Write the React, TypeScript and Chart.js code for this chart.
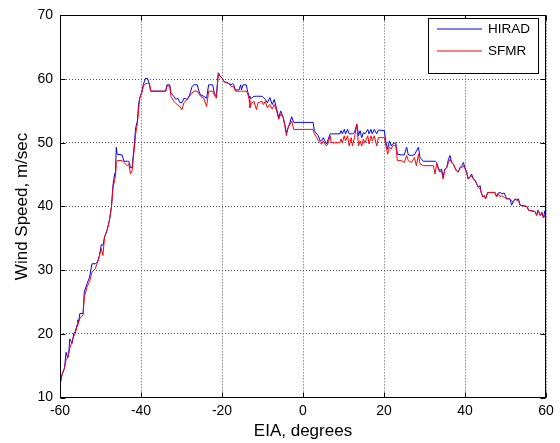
import { useEffect, useRef } from 'react';
import { Chart, registerables } from 'chart.js';

Chart.register(...registerables);

// EIA (degrees) sample positions shared by both series
const eia = [
  -60, -59.5, -58.9, -58.5, -58.1, -57.8, -57.6, -57.0, -56.6, -56.2,
  -55.8, -55.6, -55.4, -55.1, -54.3, -54.0, -53.3, -52.7, -52.1, -51.3,
  -50.7, -50.3, -49.8, -49.4, -49.0, -48.4, -47.8, -47.3, -46.9, -46.5,
  -46.3, -46.1, -45.9, -44.7, -44.2, -43.4, -43.0, -42.6, -42.2, -41.8,
  -41.3, -40.9, -40.6, -40.3, -39.8, -39.4, -38.9, -38.4, -37.9, -37.6,
  -33.9, -33.6, -32.9, -32.6, -31.9, -31.4, -30.9, -30.4, -29.9, -29.4,
  -28.6, -28.0, -27.4, -27.0, -26.1, -25.8, -25.3, -24.5, -23.8, -23.3,
  -22.3, -21.9, -21.4, -20.9, -20.5, -19.9, -19.5, -18.3, -17.7, -17.5,
  -17.1, -16.7, -15.8, -15.4, -15.2, -14.8, -14.0, -13.7, -13.3, -13.1,
  -12.7, -12.1, -11.5, -11.1, -10.1, -9.8, -9.3, -8.8, -8.2, -7.6,
  -7.1, -6.5, -6.0, -5.5, -4.9, -4.5, -4.1, -3.65, -3.2, -2.8,
  -2.3, 2.5, 2.8, 3.4, 3.8, 4.2, 4.6, 5.0, 5.4, 5.8,
  6.25, 6.7, 7.0, 9.1, 9.4, 9.7, 10.2, 10.5, 11.0, 11.4,
  11.9, 12.2, 12.7, 13.3, 13.7, 14.1, 14.5, 14.9, 15.3, 16.0,
  16.3, 16.8, 17.1, 17.6, 18.2, 18.6, 20.1, 20.4, 20.9, 21.35,
  21.8, 22.1, 22.6, 22.9, 23.3, 24.3, 25.0, 25.6, 26.0, 26.8,
  27.5, 28.0, 28.5, 28.9, 29.7, 32.2, 32.6, 33.0, 33.4, 33.8,
  34.2, 34.6, 35.05, 35.5, 35.9, 36.3, 36.7, 37.1, 37.5, 37.9,
  38.3, 38.8, 39.2, 39.6, 40.0, 40.4, 40.8, 41.2, 41.6, 42.1,
  42.5, 42.9, 43.3, 43.7, 44.0, 44.4, 44.8, 45.1, 45.6, 47.4,
  47.8, 48.2, 48.7, 49.1, 49.7, 50.3, 51.1, 51.5, 51.9, 52.4,
  52.8, 53.2, 53.6, 55.3, 55.7, 57.3, 57.7, 58.0, 58.6, 59.0,
  59.4, 59.7, 60.0,
];

// HIRAD wind speed (m/sec)
const hirad = [
  12.0, 13.6, 14.6, 17.1, 16.2, 17.3, 19.2, 18.5, 20.1, 20.4,
  21.4, 22.2, 21.8, 23.2, 23.2, 26.6, 27.9, 28.9, 31.0, 31.0,
  31.3, 32.2, 34.0, 33.9, 35.2, 36.2, 37.8, 39.9, 43.5, 45.1,
  45.4, 49.3, 48.2, 48.1, 47.1, 47.1, 47.1, 46.1, 46.1, 48.7,
  52.4, 53.4, 56.0, 57.1, 57.9, 59.2, 60.1, 60.1, 59.1, 58.1,
  58.1, 59.1, 59.1, 57.8, 57.3, 56.8, 57.0, 56.3, 56.3, 57.0,
  56.8, 57.5, 58.8, 59.1, 59.1, 58.3, 57.5, 57.3, 57.0, 59.1,
  59.1, 57.8, 57.3, 61.0, 60.5, 60.1, 59.6, 59.3, 59.1, 59.3,
  59.1, 58.3, 58.3, 59.1, 58.3, 59.1, 59.1, 58.1, 57.3, 57.0,
  57.0, 57.3, 57.3, 57.3, 57.3, 57.1, 56.8, 56.3, 57.1, 56.0,
  56.8, 55.3, 53.9, 55.0, 54.0, 52.9, 51.6, 52.4, 53.2, 54.1,
  53.2, 53.2, 51.9, 51.4, 51.1, 50.3, 50.3, 50.8, 50.3, 49.8,
  50.6, 51.4, 51.4, 51.4, 51.9, 51.4, 52.1, 51.4, 52.1, 51.4,
  51.4, 51.4, 51.6, 52.9, 51.1, 51.9, 50.8, 51.6, 51.4, 52.1,
  51.4, 52.1, 51.4, 52.1, 51.4, 52.0, 51.9, 50.3, 49.0, 50.3,
  49.5, 49.8, 49.9, 50.0, 48.2, 48.1, 48.1, 49.3, 48.1, 48.0,
  48.1, 48.7, 49.3, 47.7, 47.1, 47.1, 47.1, 46.9, 46.1, 45.6,
  45.9, 44.6, 45.9, 46.1, 47.4, 48.0, 46.9, 46.7, 46.1, 45.6,
  45.4, 46.1, 46.4, 46.9, 46.1, 45.4, 44.3, 44.6, 45.1, 44.3,
  44.1, 43.5, 43.0, 43.3, 42.2, 41.5, 41.7, 41.2, 42.2, 42.2,
  41.5, 42.1, 42.2, 42.0, 42.1, 41.2, 41.2, 40.2, 40.7, 41.2,
  41.0, 41.2, 40.2, 40.0, 39.4, 39.2, 38.6, 39.4, 38.6, 39.1,
  38.2, 39.3, 38.3,
];

// SFMR wind speed (m/sec)
const sfmr = [
  12.0, 13.6, 14.6, 15.9, 16.2, 17.0, 17.7, 18.8, 19.6, 20.1,
  21.2, 21.5, 21.9, 22.4, 23.0, 25.8, 27.4, 28.2, 29.7, 30.2,
  31.3, 32.2, 33.4, 32.3, 35.2, 36.2, 37.8, 39.9, 43.0, 44.1,
  44.8, 46.9, 47.2, 47.2, 46.9, 46.4, 46.7, 45.1, 45.6, 48.2,
  51.5, 53.0, 55.0, 57.0, 57.9, 58.9, 59.3, 59.3, 59.3, 58.1,
  58.1, 58.9, 58.9, 57.3, 56.5, 56.2, 55.9, 55.7, 55.2, 56.3,
  56.8, 57.3, 57.8, 58.1, 58.1, 57.8, 57.3, 57.0, 55.7, 58.1,
  58.1, 57.5, 57.0, 60.9, 60.4, 60.1, 59.6, 59.3, 58.8, 58.8,
  58.8, 58.1, 58.1, 58.1, 58.1, 58.1, 58.1, 57.8, 56.8, 55.5,
  56.2, 56.5, 55.2, 56.3, 56.5, 56.0, 56.5, 55.5, 56.0, 55.3,
  56.0, 55.0, 53.7, 54.5, 54.0, 52.7, 51.1, 52.4, 52.9, 53.4,
  52.1, 52.1, 51.4, 50.8, 50.3, 50.0, 49.8, 50.3, 49.8, 49.5,
  50.0, 51.1, 50.0, 50.0, 50.6, 50.0, 51.1, 50.3, 51.1, 49.5,
  50.8, 49.5, 50.8, 52.9, 49.5, 50.3, 49.5, 50.6, 50.0, 51.1,
  49.8, 51.1, 50.3, 51.1, 49.5, 50.8, 50.8, 49.8, 48.2, 49.3,
  49.0, 49.5, 49.6, 49.7, 47.2, 47.2, 46.9, 48.0, 47.2, 46.9,
  47.7, 46.4, 48.2, 46.7, 46.4, 46.4, 45.1, 46.7, 45.9, 45.4,
  45.6, 44.3, 45.9, 46.1, 46.9, 47.4, 46.9, 46.7, 46.1, 45.6,
  45.4, 46.1, 46.1, 46.4, 45.9, 45.4, 44.3, 44.6, 44.8, 44.3,
  44.1, 43.5, 43.0, 42.8, 42.2, 41.5, 41.7, 41.2, 42.2, 42.2,
  41.5, 42.0, 41.5, 41.7, 41.4, 41.2, 41.2, 40.9, 40.7, 41.2,
  41.0, 40.9, 40.2, 40.0, 39.4, 39.2, 38.6, 39.4, 38.6, 38.9,
  38.2, 38.6, 38.3,
];

const xTicks = [-60, -40, -20, 0, 20, 40, 60];
const yTicks = [10, 20, 30, 40, 50, 60, 70];
const seriesNames = ['HIRAD', 'SFMR'];
const seriesColors = ['#0000ff', '#ff0000'];

const FONT = '"Liberation Sans", Arial, sans-serif';

export default function App() {
  const ref = useRef<HTMLCanvasElement>(null);

  useEffect(() => {
    if (!ref.current) return;

    const framePlugin = {
      id: 'matlabFrame',
      afterDraw(chart: any) {
        const { ctx, chartArea } = chart;
        const xs = chart.scales.x;
        const ys = chart.scales.y;
        const L = Math.round(chartArea.left) + 0.5;
        const R = Math.round(chartArea.right) - 0.5;
        const T = Math.round(chartArea.top) + 0.5;
        const B = Math.round(chartArea.bottom) - 0.5;
        ctx.save();
        ctx.strokeStyle = '#000';
        ctx.lineWidth = 1;
        ctx.setLineDash([]);
        ctx.strokeRect(L, T, R - L, B - T);
        const tl = 5;
        ctx.beginPath();
        xTicks.forEach((v) => {
          const px = Math.round(xs.getPixelForValue(v)) + 0.5;
          ctx.moveTo(px, B);
          ctx.lineTo(px, B - tl);
          ctx.moveTo(px, T);
          ctx.lineTo(px, T + tl);
        });
        yTicks.forEach((v) => {
          const py = Math.round(ys.getPixelForValue(v)) + 0.5;
          ctx.moveTo(L, py);
          ctx.lineTo(L + tl, py);
          ctx.moveTo(R, py);
          ctx.lineTo(R - tl, py);
        });
        ctx.stroke();

        // legend box (inside plot, top-right, MATLAB style)
        const bx = 428.5, by = 18.5, bw = 110, bh = 55;
        ctx.fillStyle = '#fff';
        ctx.fillRect(bx, by, bw, bh);
        ctx.strokeStyle = '#000';
        ctx.strokeRect(bx, by, bw, bh);
        ctx.font = `13.5px ${FONT}`;
        ctx.textBaseline = 'middle';
        ctx.textAlign = 'left';
        seriesNames.forEach((name, i) => {
          const y = 29 + i * 22;
          ctx.beginPath();
          ctx.strokeStyle = seriesColors[i];
          ctx.lineWidth = 1;
          ctx.moveTo(437, y);
          ctx.lineTo(482, y);
          ctx.stroke();
          ctx.fillStyle = '#000';
          ctx.fillText(name, 488, y + 0.5);
        });
        ctx.restore();
      },
    };

    const chart = new Chart(ref.current, {
      type: 'line',
      data: {
        datasets: [
          {
            label: seriesNames[0],
            data: eia.map((x, i) => ({ x, y: hirad[i] })),
            borderColor: seriesColors[0],
            backgroundColor: seriesColors[0],
            borderWidth: 1,
            pointRadius: 0,
            tension: 0,
            order: 1,
          },
          {
            label: seriesNames[1],
            data: eia.map((x, i) => ({ x, y: sfmr[i] })),
            borderColor: seriesColors[1],
            backgroundColor: seriesColors[1],
            borderWidth: 1,
            pointRadius: 0,
            tension: 0,
            order: 0,
          },
        ],
      },
      options: {
        animation: false,
        responsive: false,
        events: [],
        layout: { padding: { left: 0, right: 14, top: 13.5, bottom: 0 } },
        plugins: {
          legend: { display: false },
          tooltip: { enabled: false },
        },
        scales: {
          x: {
            type: 'linear',
            min: -60,
            max: 60,
            afterBuildTicks: (s: any) => {
              s.ticks = xTicks.map((v) => ({ value: v }));
            },
            afterFit: (s: any) => {
              s.height = 45.5;
            },
            grid: { color: '#555', lineWidth: 1, drawTicks: false },
            border: { display: false, dash: [1, 2] },
            ticks: {
              padding: 5,
              color: '#000',
              autoSkip: false,
              maxRotation: 0,
              font: { family: FONT, size: 14 },
            },
            title: {
              display: true,
              text: 'EIA, degrees',
              color: '#000',
              font: { family: FONT, size: 17 },
              padding: { top: 0, bottom: 1 },
            },
          },
          y: {
            type: 'linear',
            min: 10,
            max: 70,
            afterBuildTicks: (s: any) => {
              s.ticks = yTicks.map((v) => ({ value: v }));
            },
            afterFit: (s: any) => {
              s.width = 60;
            },
            grid: { color: '#555', lineWidth: 1, drawTicks: false },
            border: { display: false, dash: [1, 2] },
            ticks: {
              padding: 7,
              color: '#000',
              font: { family: FONT, size: 14 },
            },
            title: {
              display: true,
              text: 'Wind Speed, m/sec',
              color: '#000',
              font: { family: FONT, size: 17 },
              padding: { top: 12.5, bottom: 0 },
            },
          },
        },
      },
      plugins: [framePlugin],
    });

    return () => chart.destroy();
  }, []);

  return (
    <div style={{ position: 'absolute', left: 0, top: 0, width: 560, height: 443, background: '#fff' }}>
      <canvas ref={ref} width={560} height={443} style={{ display: 'block' }} />
    </div>
  );
}
